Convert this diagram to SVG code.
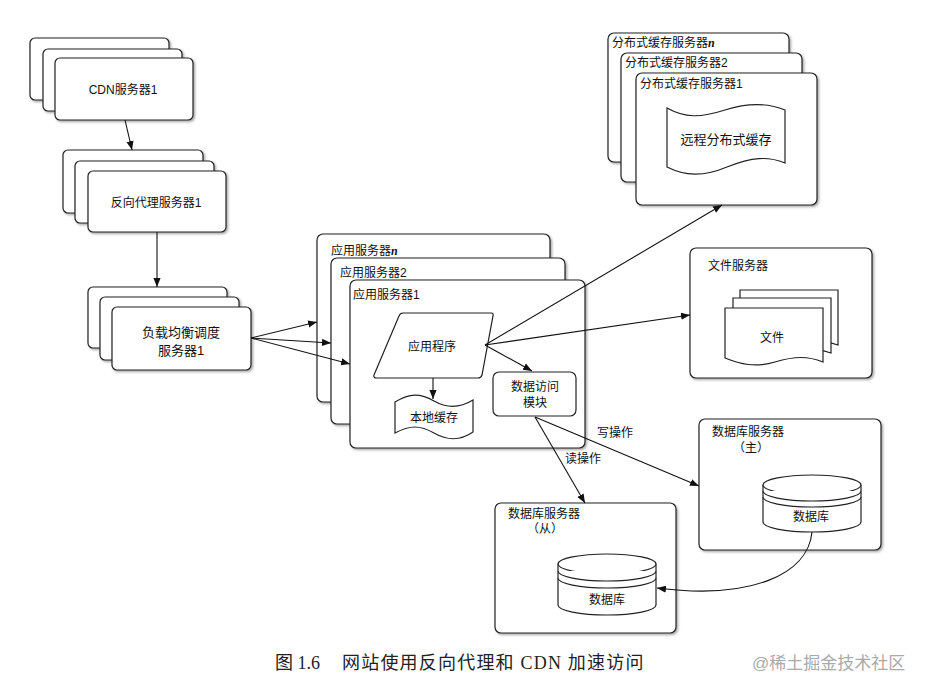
<svg xmlns="http://www.w3.org/2000/svg" width="934" height="691" viewBox="0 0 934 691">
<defs>
<filter id="sh" x="-5%" y="-5%" width="115%" height="120%">
<feDropShadow dx="1.5" dy="1.5" stdDeviation="1" flood-color="#000" flood-opacity="0.35"/>
</filter>
<marker id="ah" viewBox="0 0 10 10" refX="10" refY="5" markerWidth="9" markerHeight="9" markerUnits="userSpaceOnUse" orient="auto">
<path d="M0,1 L10,5 L0,9 z" fill="#111"/>
</marker>
</defs>
<style>
.box{fill:#fff;stroke:#222;stroke-width:1.2;filter:url(#sh)}
.shape{fill:#fff;stroke:#222;stroke-width:1.2}
.t{font-family:"Liberation Sans","Noto Sans CJK SC",sans-serif;font-size:12px;fill:#111}
.c{text-anchor:middle}
.big{font-size:13px}
.conn{fill:none;stroke:#111;stroke-width:1.1;marker-end:url(#ah)}
</style>
<rect width="934" height="691" fill="#fff"/>

<g id="cdn">
<rect class="box" x="30" y="38" width="139" height="62" rx="5"/>
<rect class="box" x="43" y="49" width="139" height="62" rx="5"/>
<rect class="box" x="55" y="58" width="138" height="62" rx="5"/>
<text class="t c" x="123" y="94">CDN服务器1</text>
</g>

<g id="proxy">
<rect class="box" x="63" y="150" width="140" height="63" rx="5"/>
<rect class="box" x="75" y="161" width="139" height="62" rx="5"/>
<rect class="box" x="88" y="171" width="138" height="61" rx="5"/>
<text class="t c" x="156" y="207">反向代理服务器1</text>
</g>

<g id="lb">
<rect class="box" x="88" y="287" width="139" height="61" rx="5"/>
<rect class="box" x="100" y="297" width="139" height="63" rx="5"/>
<rect class="box" x="112" y="307" width="139" height="63" rx="5"/>
<text class="t c big" x="181" y="337">负载均衡调度</text>
<text class="t c big" x="181" y="355">服务器1</text>
</g>

<g id="app-servers">
<rect class="box" x="317" y="234" width="233" height="168" rx="6"/>
<text class="t" x="331" y="255">应用服务器<tspan font-style="italic" font-family="Liberation Serif,serif" font-weight="bold">n</tspan></text>
<rect class="box" x="331" y="258" width="234" height="166" rx="6"/>
<text class="t" x="340" y="277">应用服务器2</text>
<rect class="box" x="350" y="280" width="235" height="168" rx="6"/>
<text class="t" x="353" y="299">应用服务器1</text>
</g>

<g id="app-program">
<path class="shape" d="M403,313 L491,313 Q494,313 493,316 L482,375 Q481,378 478,378 L377,378 Q373,378 374,375 L399,316 Q400,313 403,313 Z"/>
<text class="t c" x="432" y="351">应用程序</text>
</g>

<g id="local-cache">
<path class="shape" d="M395,402 C410,393 420,393 434,401 C448,409 460,408 473,400 L473,432 C460,441 448,441 434,433 C420,425 410,425 395,433 Z"/>
<text class="t c" x="434" y="422">本地缓存</text>
</g>

<g id="dam">
<rect class="shape" x="493" y="372" width="83" height="44" rx="6"/>
<text class="t c" x="535" y="391">数据访问</text>
<text class="t c" x="535" y="407">模块</text>
</g>

<g id="dist-cache">
<rect class="box" x="608" y="33" width="181" height="129" rx="6"/>
<text class="t" x="612" y="47">分布式缓存服务器<tspan font-style="italic" font-family="Liberation Serif,serif" font-weight="bold">n</tspan></text>
<rect class="box" x="621" y="53" width="181" height="129" rx="6"/>
<text class="t" x="625" y="67">分布式缓存服务器2</text>
<rect class="box" x="636" y="73" width="181" height="132" rx="6"/>
<text class="t" x="640" y="88">分布式缓存服务器1</text>
<path class="shape" d="M667,108 C685,118 700,118 725,110 C750,102 768,103 785,110 L785,163 C768,156 752,157 727,167 C703,177 685,176 667,167 Z"/>
<text class="t c big" x="726" y="144">远程分布式缓存</text>
</g>

<g id="file-server">
<rect class="box" x="690" y="248" width="182" height="130" rx="6"/>
<text class="t" x="708" y="270">文件服务器</text>
<path class="shape" d="M740,290 L838,290 L838,345 C825,340 815,342 800,348 L740,348 Z"/>
<path class="shape" d="M733,298 L831,298 L831,353 C818,348 808,350 793,356 L733,356 Z"/>
<path class="shape" d="M725,308 L823,308 L823,362 C808,356 795,356 775,362 C755,368 740,364 725,358 Z"/>
<text class="t c" x="772" y="342">文件</text>
</g>

<g id="db-master">
<rect class="box" x="699" y="419" width="182" height="131" rx="6"/>
<text class="t" x="712" y="436">数据库服务器</text>
<text class="t" x="733" y="452">（主）</text>
<path class="shape" d="M763,485 L763,522 A49,10 0 0 0 861,522 L861,485"/>
<ellipse class="shape" cx="812" cy="485" rx="49" ry="10"/>
<path class="shape" d="M763,491 A49,10 0 0 0 861,491 M763,497 A49,10 0 0 0 861,497" fill="none"/>
<text class="t c" x="811" y="521">数据库</text>
</g>

<g id="db-slave">
<rect class="box" x="495" y="503" width="181" height="130" rx="6"/>
<text class="t" x="508" y="518">数据库服务器</text>
<text class="t" x="527" y="533">（从）</text>
<path class="shape" d="M558,564 L558,605 A49,10 0 0 0 656,605 L656,564"/>
<ellipse class="shape" cx="607" cy="564" rx="49" ry="10"/>
<path class="shape" d="M558,571 A49,10 0 0 0 656,571 M558,578 A49,10 0 0 0 656,578" fill="none"/>
<text class="t c" x="607" y="604">数据库</text>
</g>

<g id="connectors">
<path class="conn" d="M125,120 L132,150"/>
<path class="conn" d="M157,232 L157,287"/>
<path class="conn" d="M251,338 L317,322"/>
<path class="conn" d="M251,338 L331,343"/>
<path class="conn" d="M251,338 L350,364"/>
<path class="conn" d="M433,378 L433,399"/>
<path class="conn" d="M485,345 L532,371"/>
<path class="conn" d="M485,345 L722,205"/>
<path class="conn" d="M485,345 L690,315"/>
<path class="conn" d="M535,417 L585,503"/>
<path class="conn" d="M535,417 L699,486"/>
<path class="conn" d="M812,532 C808,575 750,600 657,588"/>
<text class="t c" x="583" y="463">读操作</text>
<text class="t c" x="615" y="437">写操作</text>
</g>

<g id="caption">
<text x="275" y="669" font-family="'Liberation Serif','Noto Sans CJK SC',serif" font-size="18" fill="#222">图 1.6<tspan x="342" letter-spacing="1.2">网站使用反向代理和 CDN 加速访问</tspan></text>
<text x="752" y="669" font-family="'Liberation Sans','Noto Sans CJK SC',sans-serif" font-size="17" fill="#aaa">@稀土掘金技术社区</text>
</g>
</svg>
